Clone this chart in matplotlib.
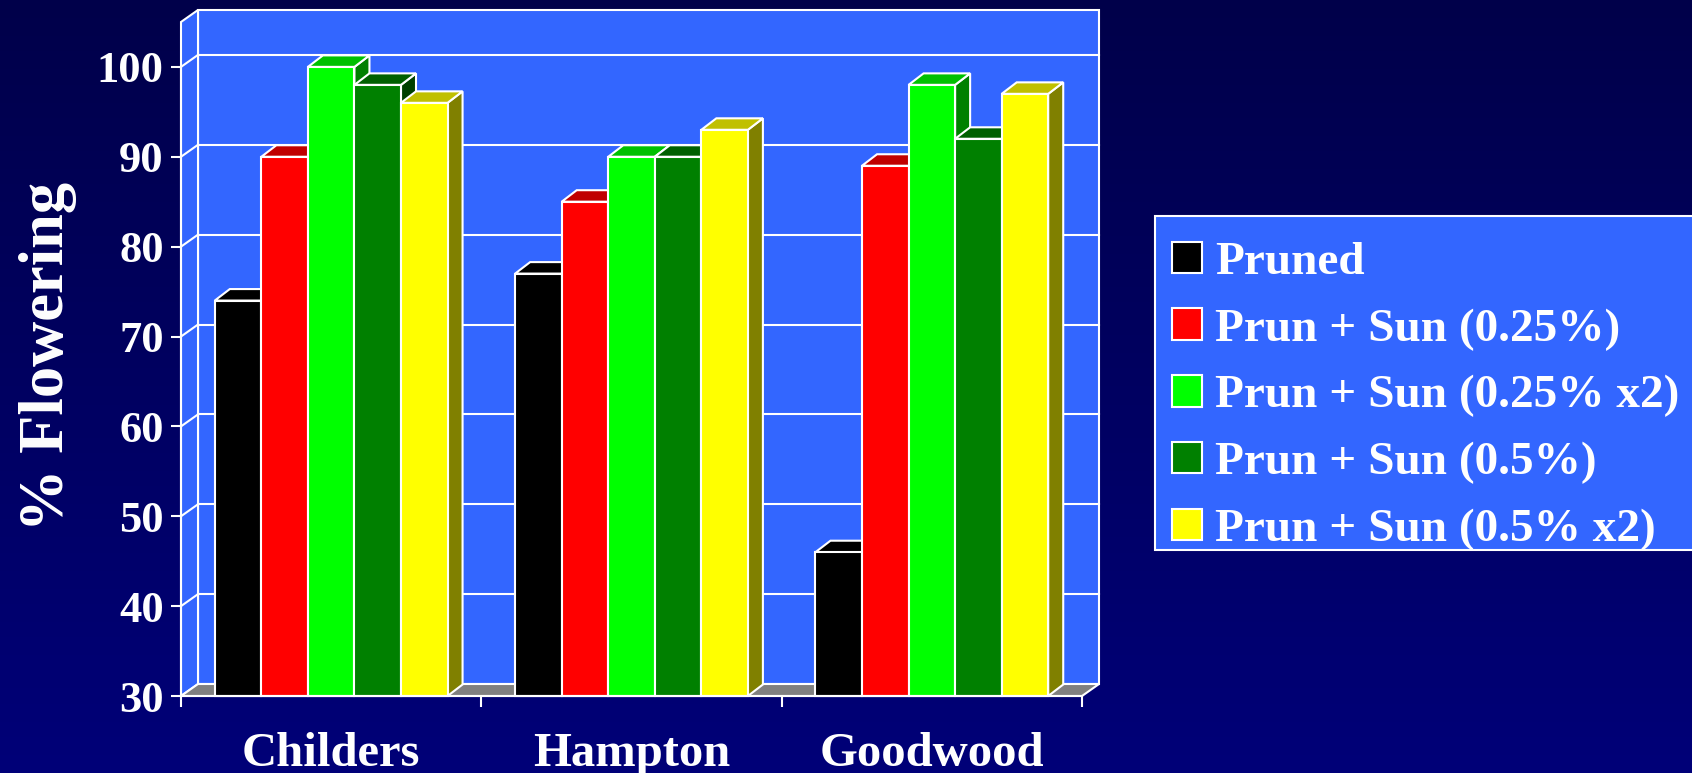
import numpy as np
import matplotlib
matplotlib.use("Agg")
import matplotlib.pyplot as plt
from matplotlib.patches import Polygon, Rectangle
from matplotlib.colors import LinearSegmentedColormap

plt.rcParams['font.family'] = ['Liberation Serif', 'DejaVu Serif']
plt.rcParams['font.weight'] = 'bold'

# --- data -------------------------------------------------------------
sites = ["Childers", "Hampton", "Goodwood"]
treatments = ["Pruned", "Prun + Sun (0.25%)", "Prun + Sun (0.25% x2)",
              "Prun + Sun (0.5%)", "Prun + Sun (0.5% x2)"]
pruned = [74, 77, 46]
sun_025 = [90, 85, 89]
sun_025_x2 = [100, 90, 98]
sun_05 = [98, 90, 92]
sun_05_x2 = [96, 93, 97]
y_ticks = [30, 40, 50, 60, 70, 80, 90, 100]

series = [pruned, sun_025, sun_025_x2, sun_05, sun_05_x2]
front_colors = ["#000000", "#FF0000", "#00FF00", "#008000", "#FFFF00"]
top_colors = ["#000000", "#C00000", "#00C000", "#006000", "#C0C000"]
side_colors = ["#000000", "#800000", "#008000", "#004000", "#808000"]

WALL = "#3366FF"
FLOOR = "#808080"
EDGE = "white"
LW = 1.5

base = 30
wall_top = 105
# oblique depth offsets (data units)
wdx, wdy = 17 / 300, 12 / 8.987
bdx, bdy = 15 / 300, 11.5 / 8.987
bar_w = 0.155

W, H = 1692, 773
fig = plt.figure(figsize=(W / 100, H / 100), dpi=100)

# background gradient
bg = fig.add_axes([0, 0, 1, 1], zorder=-10)
grad = np.linspace(0, 1, 256).reshape(-1, 1)
cmap = LinearSegmentedColormap.from_list("navy", ["#00004A", "#000078"])
bg.imshow(grad, aspect="auto", cmap=cmap, extent=[0, 1, 0, 1], origin="upper")
bg.set_axis_off()

ax = fig.add_axes([181 / W, 77 / H, 901 / W, 629.1 / H])
ax.patch.set_visible(False)
ax.set_xlim(0, 3)
ax.set_ylim(base, 100)
n_groups = len(sites)

# back wall
ax.add_patch(Polygon([(wdx, base + wdy), (n_groups + wdx, base + wdy),
                      (n_groups + wdx, wall_top + wdy), (wdx, wall_top + wdy)],
                     closed=True, facecolor=WALL, edgecolor=EDGE, lw=LW,
                     clip_on=False, zorder=1))
# side wall
ax.add_patch(Polygon([(0, base), (wdx, base + wdy), (wdx, wall_top + wdy), (0, wall_top)],
                     closed=True, facecolor=WALL, edgecolor=EDGE, lw=LW,
                     clip_on=False, zorder=1))
# gridlines on walls
for v in y_ticks[1:]:
    ax.plot([wdx, n_groups + wdx], [v + wdy, v + wdy], color=EDGE, lw=LW,
            clip_on=False, zorder=2)
    ax.plot([0, wdx], [v, v + wdy], color=EDGE, lw=LW, clip_on=False, zorder=2)
# floor
ax.add_patch(Polygon([(0, base), (n_groups, base), (n_groups + wdx, base + wdy), (wdx, base + wdy)],
                     closed=True, facecolor=FLOOR, edgecolor=EDGE, lw=LW,
                     clip_on=False, zorder=3))

# bars: front faces via ax.bar, tops and sides as oblique polygons
group_x = np.arange(n_groups)
handles = []
for j, vals in enumerate(series):
    vals = np.asarray(vals, dtype=float)
    x0 = group_x + 0.5 + (j - 2.5) * bar_w
    z = 10 + j
    for xl, h in zip(x0, vals):
        xr = xl + bar_w
        ax.add_patch(Polygon([(xr, base), (xr + bdx, base + bdy), (xr + bdx, h + bdy), (xr, h)],
                             closed=True, facecolor=side_colors[j], edgecolor=EDGE,
                             lw=LW, clip_on=False, zorder=z))
        ax.add_patch(Polygon([(xl, h), (xr, h), (xr + bdx, h + bdy), (xl + bdx, h + bdy)],
                             closed=True, facecolor=top_colors[j], edgecolor=EDGE,
                             lw=LW, clip_on=False, zorder=z))
    bc = ax.bar(x0, vals - base, bottom=base, width=bar_w, align="edge",
                color=front_colors[j], edgecolor=EDGE, lw=LW, clip_on=False,
                zorder=z, label=treatments[j])
    handles.append(bc)

# axes styling
for s in ["top", "right"]:
    ax.spines[s].set_visible(False)
for s in ["left", "bottom"]:
    ax.spines[s].set_color(EDGE)
    ax.spines[s].set_linewidth(LW)
    ax.spines[s].set_zorder(30)

ax.set_yticks(y_ticks)
ax.set_yticklabels([str(t) for t in y_ticks])
ax.tick_params(axis="y", direction="out", length=7.5, width=LW, color=EDGE,
               labelcolor="white", labelsize=32, pad=5)
ax.set_xticks(np.arange(n_groups + 1))
ax.set_xticklabels([])
ax.set_xticks(group_x + 0.5, minor=True)
ax.set_xticklabels(sites, minor=True)
ax.tick_params(axis="x", which="major", direction="out", length=8, width=LW, color=EDGE)
ax.tick_params(axis="x", which="minor", length=0, labelcolor="white", labelsize=35, pad=26)
for lbl in ax.get_yticklabels() + ax.get_xticklabels(minor=True):
    lbl.set_fontweight("bold")

ax.set_ylabel("% Flowering", color="white", fontsize=45, fontweight="bold",
              labelpad=14, y=0.54)

# legend box (runs off the right edge of the figure)
fig.patches.append(Rectangle((1155 / W, 1 - 550 / H), 560 / W, 334 / H,
                             transform=fig.transFigure, facecolor=WALL,
                             edgecolor=EDGE, lw=LW, zorder=5))
leg = fig.legend(handles=handles, labels=treatments, loc="upper left",
                 bbox_to_anchor=(1155 / W, 1 - 225 / H), borderaxespad=0,
                 fontsize=34, frameon=False, handlelength=0.64, handleheight=0.64,
                 handletextpad=0.28, labelspacing=0.52, borderpad=0.35)
leg.set_zorder(6)
for t in leg.get_texts():
    t.set_color("white")
    t.set_fontweight("bold")

fig.savefig("out.png", dpi=100)
